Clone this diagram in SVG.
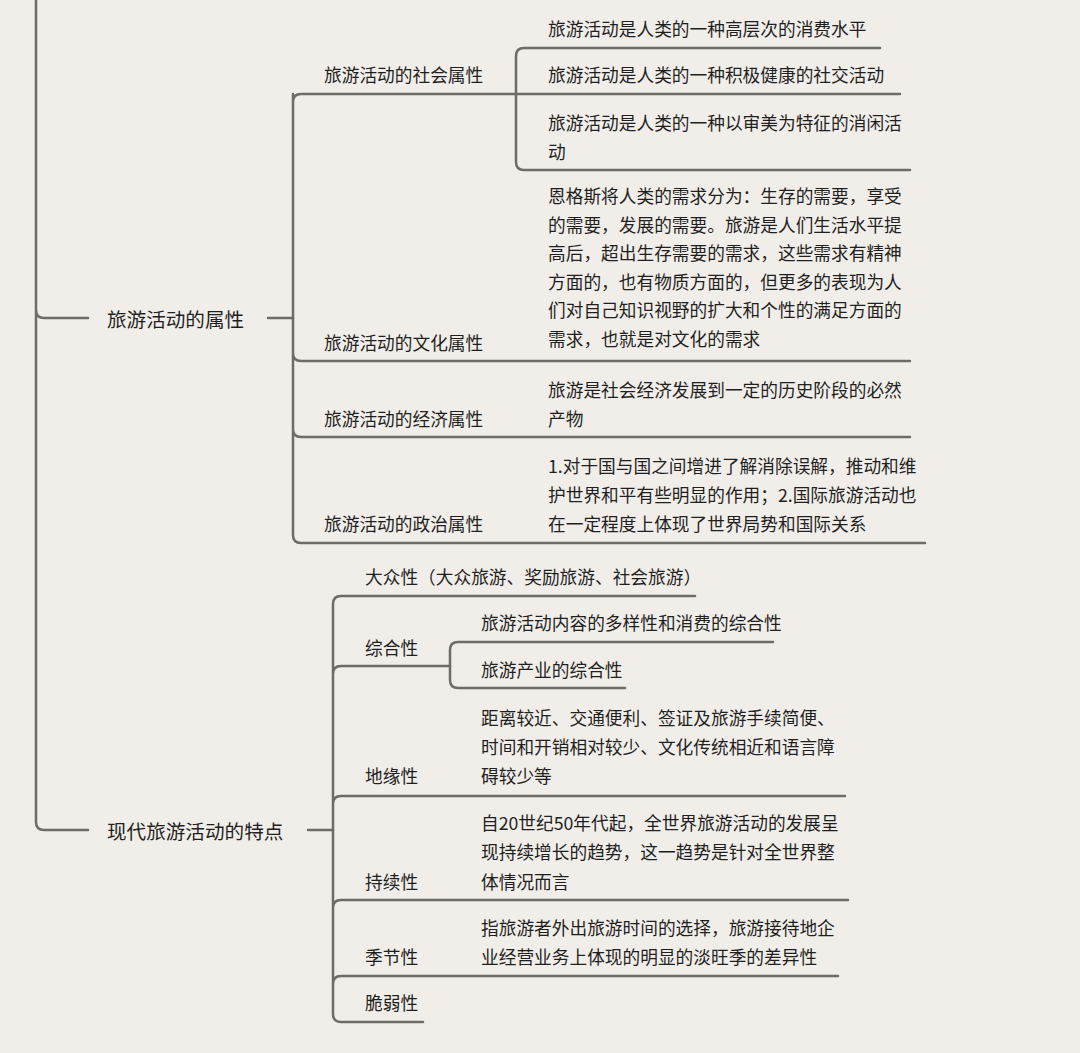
<svg xmlns="http://www.w3.org/2000/svg" width="1080" height="1053" viewBox="0 0 1080 1053">
<style>
.c{fill:none;stroke:#6e6b68;stroke-width:2.5;stroke-linecap:round;stroke-linejoin:round}
text{font-family:"Noto Sans CJK SC","Noto Sans",sans-serif;font-size:17.7px;fill:#1f1f1f}
.m{font-size:19.6px}
</style>
<rect width="1080" height="1053" fill="#f1eee9"/>
<g id="connectors">
<path class="c" d="M36 0V310q0 8 8 8H88M268 318H293M36 310V822q0 8 8 8H88M308 830H333"/>
<path class="c" d="M293 94V535q0 8 8 8H925M293 318V102q0-8 8-8H516M293 353q0 8 8 8H910M293 429q0 8 8 8H910"/>
<path class="c" d="M516 94V56q0-8 8-8H880M516 94H900M516 94V162q0 8 8 8H910"/>
<path class="c" d="M333 830V604q0-8 8-8H695M333 830V1014q0 8 8 8H423M333 674q0-8 8-8H450M333 804q0-8 8-8H845M333 908q0-8 8-8H848M333 984q0-8 8-8H838"/>
<path class="c" d="M450 666V650q0-8 8-8H773M450 666V680q0 8 8 8H625"/>
</g>
<g id="n1"><text class="m" x="107" y="327">旅游活动的属性</text></g>
<g id="n2"><text x="324" y="82">旅游活动的社会属性</text></g>
<g id="n3"><text x="548" y="36">旅游活动是人类的一种高层次的消费水平</text></g>
<g id="n4"><text x="548" y="82">旅游活动是人类的一种积极健康的社交活动</text></g>
<g id="n5"><text x="548" y="130">旅游活动是人类的一种以审美为特征的消闲活</text><text x="548" y="159">动</text></g>
<g id="n6"><text x="324" y="350">旅游活动的文化属性</text></g>
<g id="n7"><text x="548" y="203">恩格斯将人类的需求分为：生存的需要，享受</text><text x="548" y="231.5">的需要，发展的需要。旅游是人们生活水平提</text><text x="548" y="260">高后，超出生存需要的需求，这些需求有精神</text><text x="548" y="288.5">方面的，也有物质方面的，但更多的表现为人</text><text x="548" y="317">们对自己知识视野的扩大和个性的满足方面的</text><text x="548" y="345.5">需求，也就是对文化的需求</text></g>
<g id="n8"><text x="324" y="426">旅游活动的经济属性</text></g>
<g id="n9"><text x="548" y="397">旅游是社会经济发展到一定的历史阶段的必然</text><text x="548" y="426">产物</text></g>
<g id="n10"><text x="324" y="531">旅游活动的政治属性</text></g>
<g id="n11"><text x="548" y="473">1.对于国与国之间增进了解消除误解，推动和维</text><text x="548" y="502">护世界和平有些明显的作用；2.国际旅游活动也</text><text x="548" y="531">在一定程度上体现了世界局势和国际关系</text></g>
<g id="n12"><text class="m" x="107" y="839">现代旅游活动的特点</text></g>
<g id="n13"><text x="365" y="584">大众性（大众旅游、奖励旅游、社会旅游）</text></g>
<g id="n14"><text x="365" y="655">综合性</text></g>
<g id="n15"><text x="481" y="630">旅游活动内容的多样性和消费的综合性</text></g>
<g id="n16"><text x="481" y="677">旅游产业的综合性</text></g>
<g id="n17"><text x="365" y="783">地缘性</text></g>
<g id="n18"><text x="481" y="725">距离较近、交通便利、签证及旅游手续简便、</text><text x="481" y="754">时间和开销相对较少、文化传统相近和语言障</text><text x="481" y="783">碍较少等</text></g>
<g id="n19"><text x="365" y="889">持续性</text></g>
<g id="n20"><text x="481" y="830">自20世纪50年代起，全世界旅游活动的发展呈</text><text x="481" y="859">现持续增长的趋势，这一趋势是针对全世界整</text><text x="481" y="889">体情况而言</text></g>
<g id="n21"><text x="365" y="964">季节性</text></g>
<g id="n22"><text x="481" y="935">指旅游者外出旅游时间的选择，旅游接待地企</text><text x="481" y="964">业经营业务上体现的明显的淡旺季的差异性</text></g>
<g id="n23"><text x="365" y="1010">脆弱性</text></g>
</svg>
